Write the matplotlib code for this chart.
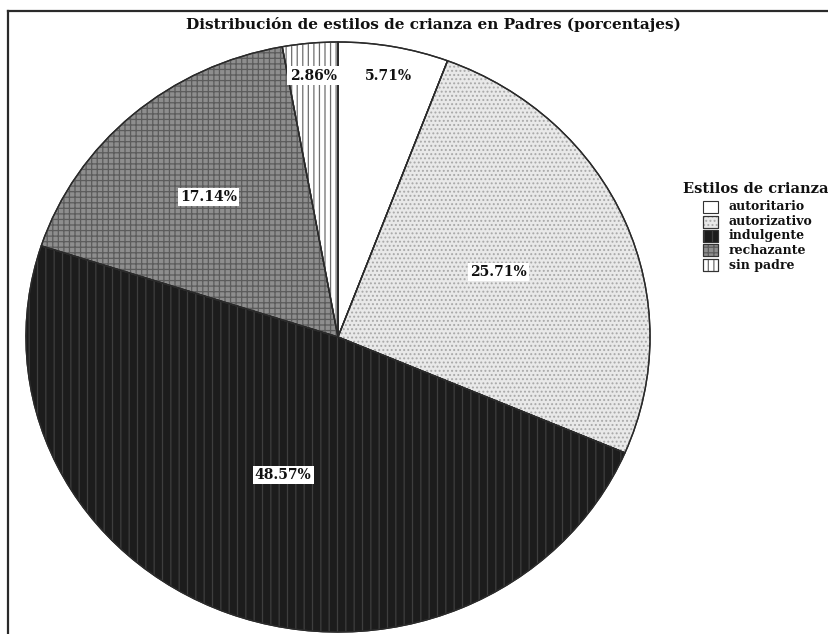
import matplotlib
matplotlib.use("Agg")
import matplotlib.pyplot as plt
from matplotlib.patches import Wedge, Rectangle
from matplotlib.lines import Line2D
import numpy as np

plt.rcParams['font.family'] = ['DejaVu Serif']
plt.rcParams['hatch.linewidth'] = 0.9

# Data
categories = ['autoritario', 'autorizativo', 'indulgente', 'rechazante', 'sin padre']
percentages = [5.71, 25.71, 48.57, 17.14, 2.86]
title = 'Distribución de estilos de crianza en Padres (porcentajes)'
legend_title = 'Estilos de crianza'

# Fill styles for each slice
face_colors = ['#ffffff', '#e9e9e9', '#1c1c1c', '#8e8e8e', '#ffffff']
hatches = [None, '....', '||', '+++', '|||']
hatch_colors = [None, '#a9a9a9', '#3e3e3e', '#5c5c5c', '#6e6e6e']
label_radius = [0.90, 0.56, 0.50, 0.63, 0.89]

W, H = 829, 634
fig = plt.figure(figsize=(W / 100, H / 100), dpi=100)
ax = fig.add_axes([0, 0, 1, 1])

# Pixel geometry of the (slightly oval) pie
cx, cy, rx, ry = 338, 337, 312, 295

def px(x):
    return (x - cx) / rx

def py(y):
    return (cy - y) / ry

wedges, _ = ax.pie(percentages, colors=face_colors, startangle=90,
                   counterclock=False, radius=1, center=(0, 0),
                   wedgeprops=dict(edgecolor='#2a2a2a', linewidth=1.0))

# Hatch overlays
for w, h, hc in zip(wedges, hatches, hatch_colors):
    if h is None:
        continue
    ov = Wedge(w.center, w.r, w.theta1, w.theta2, fill=False, hatch=h,
               edgecolor=hc, linewidth=0)
    ax.add_patch(ov)
# Re-draw outlines on top
for w in wedges:
    ax.add_patch(Wedge(w.center, w.r, w.theta1, w.theta2, fill=False,
                       edgecolor='#2a2a2a', linewidth=1.0))

# Percentage labels
for w, p, lr in zip(wedges, percentages, label_radius):
    mid = np.deg2rad((w.theta1 + w.theta2) / 2)
    ax.text(lr * np.cos(mid), lr * np.sin(mid), f'{p:.2f}%',
            ha='center', va='center', fontsize=10, fontweight='bold',
            color='#111111',
            bbox=dict(boxstyle='square,pad=0.15', facecolor='white',
                      edgecolor='none'))

ax.set_aspect('auto')
ax.set_xlim(px(0), px(W))
ax.set_ylim(py(H), py(0))
ax.axis('off')

# Title
fig.text(433 / W, 1 - 25 / H, title, ha='center', va='center',
         fontsize=11, fontweight='bold', color='#111111')

# Legend
fig.text(683 / W, 1 - 189 / H, legend_title, ha='left', va='center',
         fontsize=10.5, fontweight='bold', color='#111111')
for i, (cat, fc, h, hc) in enumerate(zip(categories, face_colors, hatches, hatch_colors)):
    yc = 207 + i * 14.5
    x0, y0, bw, bh = 703, yc - 6, 15, 12
    rect = Rectangle((x0 / W, 1 - (y0 + bh) / H), bw / W, bh / H,
                     transform=fig.transFigure, facecolor=fc,
                     edgecolor='#333333', linewidth=0.8)
    fig.add_artist(rect)
    if h is not None:
        fig.add_artist(Rectangle((x0 / W, 1 - (y0 + bh) / H), bw / W, bh / H,
                                 transform=fig.transFigure, fill=False,
                                 hatch=h, edgecolor=hc, linewidth=0))
        fig.add_artist(Rectangle((x0 / W, 1 - (y0 + bh) / H), bw / W, bh / H,
                                 transform=fig.transFigure, fill=False,
                                 edgecolor='#333333', linewidth=0.8))
    fig.text(729 / W, 1 - yc / H, cat, ha='left', va='center',
             fontsize=9, fontweight='bold', color='#111111')

# Outer frame (top and left edges)
fig.add_artist(Line2D([8 / W, 1.0], [1 - 10.5 / H, 1 - 10.5 / H],
                      transform=fig.transFigure, color='#2a2a2a', linewidth=1.6))
fig.add_artist(Line2D([8 / W, 8 / W], [0, 1 - 10.5 / H],
                      transform=fig.transFigure, color='#2a2a2a', linewidth=1.6))

fig.savefig('out.png', dpi=100, facecolor='white')
